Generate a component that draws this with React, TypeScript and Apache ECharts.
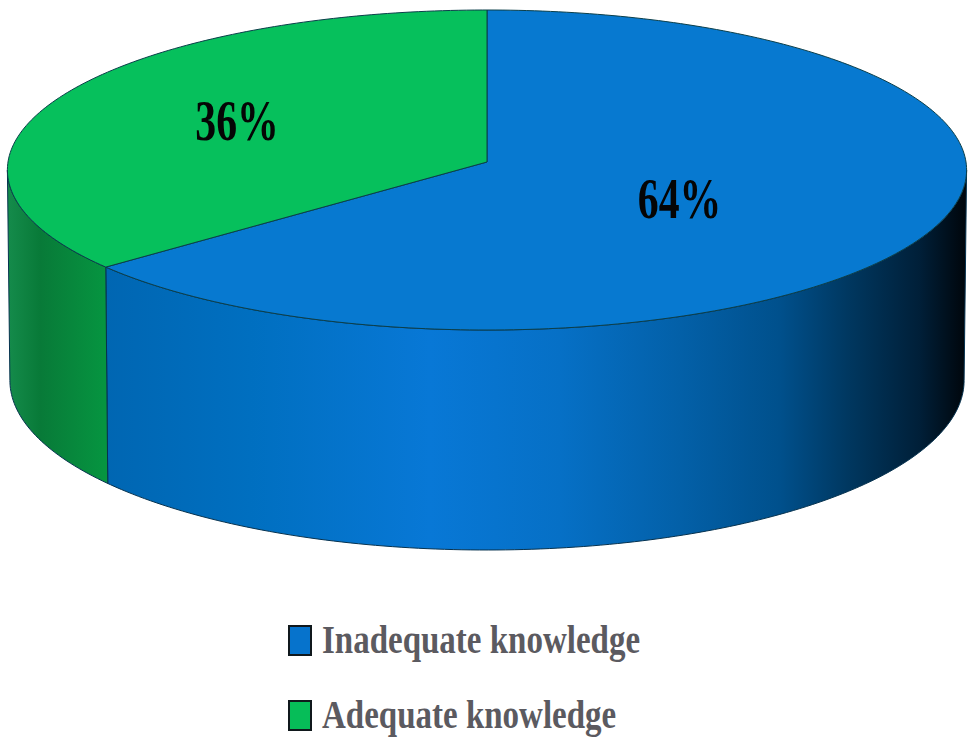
import React, { useEffect, useRef } from "react";
import * as echarts from "echarts";

const categories = ["Inadequate knowledge", "Adequate knowledge"];
const shares = [64, 36];
const topColors = ["#0779d0", "#06c05c"];
const legendColors = ["#0673cc", "#06bd58"];
const labelAnchors = [[679.5, 227], [237, 149]];
const legendBaselines = [655, 730];

const CX = 487, CY = 162, RX = 479, RY = 159.6, P = 0.05;
const DEG = Math.PI / 180;
const total = shares.reduce((a, b) => a + b, 0);

function rim(theta: number, wall: boolean): number[] {
  const u = Math.sin(theta * DEG);
  const v = -Math.cos(theta * DEG);
  const k = 1 / (1 - P * v);
  if (!wall) return [CX + RX * u * k, CY + RY * v * k];
  return [CX + (RX - 2.5) * u * k, CY + RY * v * k + 210 + 10 * v];
}

function gradient(stops: [number, string][]) {
  const a = stops[0][0];
  const b = stops[stops.length - 1][0];
  return new echarts.graphic.LinearGradient(
    a, 0, b, 0,
    stops.map(([x, color]) => ({ offset: (x - a) / (b - a), color })),
    true
  );
}

const wallStops: [number, string][][] = [
  [[104, "#0066b2"], [250, "#006fc0"], [430, "#0878d6"], [560, "#0670c6"], [680, "#0360a8"], [780, "#00508c"], [850, "#00375f"], [920, "#001f38"], [967, "#00050a"]],
  [[10, "#148a4a"], [40, "#087a38"], [104, "#069440"]],
];

function renderItem(params: any, api: any) {
  const i = params.dataIndex;
  const value = api.value(0);
  const before = shares.slice(0, i).reduce((a, b) => a + b, 0);
  const start = (before / total) * 360;
  const end = start + (value / total) * 360;

  const top: number[][] = [[CX, CY]];
  for (let t = start; t < end; t += 1) top.push(rim(t, false));
  top.push(rim(end, false));

  const silhouette = Math.acos(-P) / DEG;
  const from = Math.max(start, silhouette);
  const to = Math.min(end, 360 - silhouette);
  const upper: number[][] = [];
  const lower: number[][] = [];
  for (let t = from; t < to; t += 1) {
    upper.push(rim(t, false));
    lower.push(rim(t, true));
  }
  upper.push(rim(to, false));
  lower.push(rim(to, true));
  const wall = upper.concat(lower.reverse());

  return {
    type: "group",
    children: [
      {
        type: "polygon",
        shape: { points: wall },
        style: { fill: gradient(wallStops[i]), stroke: "#06324f", lineWidth: 1 },
      },
      {
        type: "polygon",
        shape: { points: top },
        style: { fill: topColors[i], stroke: "#0b3f4a", lineWidth: 1 },
      },
      {
        type: "text",
        x: labelAnchors[i][0],
        y: labelAnchors[i][1],
        scaleX: 0.72,
        style: {
          text: value + "%",
          fill: "#050505",
          font: "bold 58px 'Liberation Serif'",
          textAlign: "center",
          textVerticalAlign: "bottom",
        },
      },
    ],
  };
}

export default function App() {
  const ref = useRef<HTMLDivElement>(null);
  useEffect(() => {
    const chart = echarts.init(ref.current!, undefined, { renderer: "svg" });
    chart.setOption({
      animation: false,
      backgroundColor: "#ffffff",
      series: [
        {
          type: "custom",
          name: "Knowledge",
          coordinateSystem: "none",
          silent: true,
          data: shares.map((v, i) => ({ name: categories[i], value: [v] })),
          renderItem,
        },
      ],
      graphic: categories.flatMap((name, i) => [
        {
          type: "rect",
          shape: { x: 289, y: legendBaselines[i] - 29, width: 22, height: 29 },
          style: { fill: legendColors[i], stroke: "#10181c", lineWidth: 2 },
        },
        {
          type: "text",
          x: 322,
          y: legendBaselines[i] + 5,
          scaleX: 0.805,
          style: {
            text: name,
            fill: "#5b5a60",
            font: "bold 41px 'Liberation Serif'",
            textAlign: "left",
            textVerticalAlign: "bottom",
          },
        },
      ]),
    });
    return () => chart.dispose();
  }, []);
  return (
    <div
      ref={ref}
      style={{ position: "absolute", left: 0, top: 0, width: 973, height: 750 }}
    />
  );
}
